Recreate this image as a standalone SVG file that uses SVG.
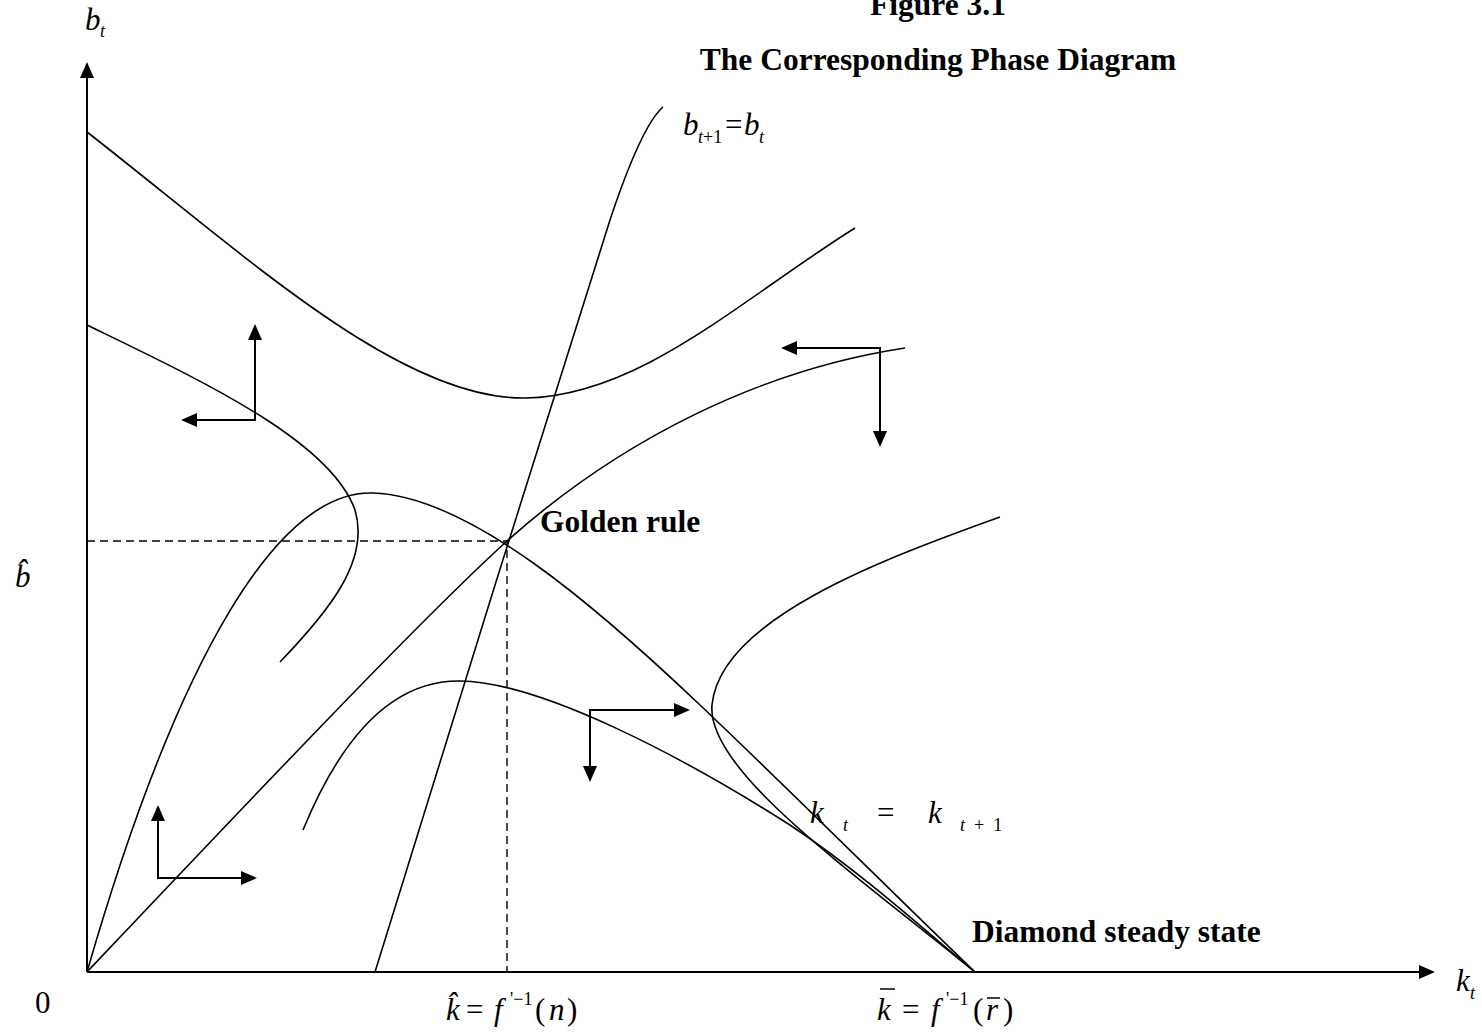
<svg xmlns="http://www.w3.org/2000/svg" width="1482" height="1032" viewBox="0 0 1482 1032">
<style>
.ax{fill:none;stroke:#000;stroke-width:2}
.cv{fill:none;stroke:#000;stroke-width:1.6}
.ar{fill:none;stroke:#000;stroke-width:2;marker-start:url(#ahs);marker-end:url(#ah)}
.dash{fill:none;stroke:#000;stroke-width:1.4;stroke-dasharray:8 5}
.bar{stroke:#000;stroke-width:1.5}
text{font-family:"Liberation Serif","Times New Roman",serif;fill:#000}
.bold{font-weight:bold;font-size:31.5px}
.m{font-size:31px}
.i{font-style:italic}
.s{font-size:18px}
</style>
<defs>
<marker id="ah" markerUnits="userSpaceOnUse" markerWidth="18" markerHeight="16" refX="14" refY="7" orient="auto"><path d="M0,0 L16,7 L0,14 Z" fill="#000"/></marker>
<marker id="ahs" markerUnits="userSpaceOnUse" markerWidth="18" markerHeight="16" refX="14" refY="7" orient="auto-start-reverse"><path d="M0,0 L16,7 L0,14 Z" fill="#000"/></marker>
</defs>
<rect width="1482" height="1032" fill="#fff"/>
<g id="title">
<text class="bold" x="938" y="15" text-anchor="middle">Figure 3.1</text>
<text class="bold" x="938" y="70" text-anchor="middle">The Corresponding Phase Diagram</text>
</g>
<g id="axes">
<path class="ax" d="M87,972 V64" marker-end="url(#ah)"/>
<path class="ax" d="M87,972 H1433" marker-end="url(#ah)"/>
<text class="m i" x="85" y="30">b</text><text class="s i" x="100" y="37">t</text>
<text class="m i" x="1456" y="991">k</text><text class="s i" x="1470" y="999">t</text>
<text class="m" x="35" y="1013">0</text>
</g>
<g id="guides">
<path class="dash" d="M87,541 H507 V972"/>
</g>
<g id="curves">
<path id="bb-locus" class="cv" d="M375,972 C440,760 540,440 610,220 C630,160 648,120 663,107"/>
<path id="curve-b" class="cv" d="M87,972 C250,800 420,620 507,541 C620,440 760,370 905,348"/>
<path id="kk-locus" class="cv" d="M87,972 C180,650 280,490 373,493 C470,496 600,610 700,705 C800,800 900,900 975,972"/>
<path id="lower-hump" class="cv" d="M303,830 C340,740 390,680 460,681 C540,682 680,755 790,825 C865,875 930,935 975,972"/>
<path id="back-s" class="cv" d="M1000,517 C880,560 720,620 712,705 C706,770 850,870 975,972"/>
<path id="upper-u" class="cv" d="M87,132 C245,255 400,400 525,398 C640,396 740,300 855,228"/>
<path id="left-s" class="cv" d="M87,325 C200,380 330,440 355,510 C370,560 330,610 280,662"/>
</g>
<g id="phase-arrows">
<path class="ar" d="M183,420 H255 V326"/>
<path class="ar" d="M783,348 H880 V445"/>
<path class="ar" d="M688,710 H590 V780"/>
<path class="ar" d="M158,807 V878 H255"/>
</g>
<g id="labels">
<text class="m i" x="683" y="135">b</text><text class="s" x="698" y="143"><tspan class="i">t</tspan>+1</text>
<text class="m" x="725" y="135">=</text>
<text class="m i" x="744" y="135">b</text><text class="s i" x="759" y="143">t</text>
<text class="bold" x="540" y="532">Golden rule</text>
<text class="bold" x="972" y="942">Diamond steady state</text>
<text class="m i" x="810" y="823">k</text><text class="s i" x="843" y="831">t</text>
<text class="m" x="877" y="823">=</text>
<text class="m i" x="928" y="823">k</text><text class="s" x="960" y="831" xml:space="preserve"><tspan class="i">t</tspan>  +  1</text>
<text class="m i" x="15" y="587">b̂</text>
<text class="m i" x="446" y="1020">k̂</text>
<text class="m" x="466" y="1020">=</text>
<text class="m i" x="494" y="1020">f</text>
<text class="s" x="510" y="1005">'−1</text>
<text class="m" x="535" y="1020">(</text><text class="m i" x="549" y="1020">n</text><text class="m" x="567" y="1020">)</text>
<text class="m i" x="877" y="1020">k</text><path class="bar" d="M880,989 H895"/>
<text class="m" x="902" y="1020">=</text>
<text class="m i" x="931" y="1020">f</text>
<text class="s" x="946" y="1005">'−1</text>
<text class="m" x="973" y="1020">(</text><text class="m i" x="986" y="1020">r</text><text class="m" x="1003" y="1020">)</text><path class="bar" d="M987,998 H1000"/>
</g>
</svg>
